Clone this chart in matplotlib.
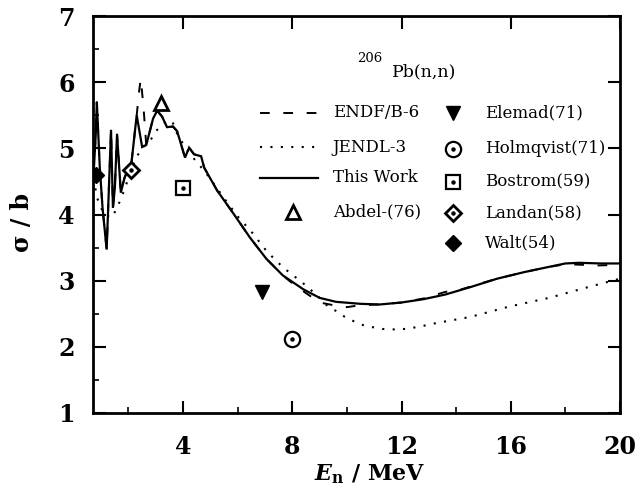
import matplotlib
matplotlib.use("Agg")
import matplotlib.pyplot as plt
from matplotlib.ticker import MultipleLocator
from matplotlib.lines import Line2D

plt.rcParams['font.family'] = ['DejaVu Serif']
plt.rcParams['mathtext.fontset'] = 'custom'
plt.rcParams['mathtext.it'] = 'DejaVu Serif:italic:bold'
plt.rcParams['mathtext.rm'] = 'DejaVu Serif:bold'
plt.rcParams['mathtext.bf'] = 'DejaVu Serif:bold'

# ---- evaluated / calculated cross sections (MeV, barn) ----
work_E = [0.72, 0.80, 0.84, 0.95, 1.05, 1.20, 1.30, 1.36, 1.43, 1.50, 1.58, 1.72,
          1.85, 1.95, 2.10, 2.30, 2.50, 2.65, 2.90, 3.05, 3.23, 3.41, 3.63, 3.78,
          4.07, 4.22, 4.40, 4.66, 4.77, 5.25, 5.85, 6.45, 7.05, 7.65, 8.40, 9.00,
          9.60, 10.5, 11.2, 12.0, 12.8, 13.6, 14.5, 15.5, 16.5, 17.3, 18.0, 18.5,
          19.3, 20.0]
work_s = [4.60, 5.20, 5.70, 4.70, 4.10, 3.47, 4.60, 5.28, 4.10, 4.40, 5.21, 4.33,
          4.55, 4.65, 4.75, 5.50, 5.02, 5.05, 5.45, 5.57, 5.48, 5.32, 5.33, 5.26,
          4.86, 5.01, 4.91, 4.88, 4.71, 4.36, 4.01, 3.65, 3.33, 3.08, 2.87, 2.74,
          2.68, 2.65, 2.64, 2.67, 2.72, 2.79, 2.90, 3.03, 3.13, 3.20, 3.26, 3.27,
          3.26, 3.26]

endf_E = [0.72, 0.80, 0.84, 0.95, 1.05, 1.20, 1.30, 1.36, 1.43, 1.50, 1.58, 1.72,
          1.85, 1.95, 2.10, 2.30, 2.40, 2.45, 2.55, 2.65, 2.90, 3.05, 3.23, 3.41,
          3.63, 3.78, 4.07, 4.22, 4.40, 4.66, 4.77, 5.25, 5.85, 6.45, 7.05, 7.65,
          8.00, 8.40, 9.00, 9.50, 10.0, 10.5, 11.2, 12.0, 12.8, 13.6, 14.2, 15.0,
          15.5, 16.5, 17.3, 18.0, 19.2, 20.0]
endf_s = [4.60, 5.20, 5.70, 4.70, 4.10, 3.47, 4.60, 5.28, 4.10, 4.40, 5.21, 4.33,
          4.55, 4.65, 4.75, 5.50, 5.90, 6.05, 5.62, 5.05, 5.45, 5.57, 5.48, 5.32,
          5.33, 5.26, 4.86, 5.01, 4.91, 4.88, 4.71, 4.36, 4.01, 3.65, 3.33, 3.08,
          2.96, 2.84, 2.67, 2.63, 2.60, 2.63, 2.64, 2.67, 2.73, 2.83, 2.87, 2.97,
          3.03, 3.13, 3.20, 3.25, 3.23, 3.24]

jendl_E = [0.72, 0.85, 1.10, 1.40, 1.72, 2.00, 2.27, 2.60, 2.83, 3.00, 3.40, 3.60,
           3.80, 4.10, 4.50, 4.80, 5.53, 6.00, 6.52, 7.07, 7.66, 8.00, 8.37, 8.90,
           9.28, 9.65, 10.0, 10.64, 11.3, 11.93, 12.6, 13.28, 14.5, 15.96, 17.4,
           18.9, 20.0]
jendl_s = [4.55, 4.25, 4.00, 3.95, 4.23, 4.55, 4.86, 5.05, 5.14, 5.26, 5.41, 5.41,
           5.20, 5.00, 4.79, 4.65, 4.23, 3.97, 3.73, 3.44, 3.20, 3.09, 2.97, 2.78,
           2.62, 2.53, 2.43, 2.32, 2.27, 2.26, 2.30, 2.36, 2.45, 2.61, 2.74,
           2.91, 3.03]

# ---- measurements ----
abdel_E, abdel_s = [3.2], [5.68]
elemad_E, elemad_s = [6.9], [2.83]
holm_E, holm_s = [8.0], [2.12]
bostrom_E, bostrom_s = [4.0], [4.40]
landan_E, landan_s = [2.1], [4.68]
walt_E, walt_s = [0.8], [4.60]

fig = plt.figure(figsize=(6.39, 4.92), dpi=100)
ax = fig.add_axes([93 / 639, 79 / 492, 527 / 639, 397 / 492])

lw = 1.6
ax.plot(work_E, work_s, color='black', lw=lw, solid_joinstyle='miter')
ax.plot(endf_E, endf_s, color='black', lw=1.4, linestyle=(0, (5, 7)))
ax.plot(jendl_E, jendl_s, color='black', lw=1.5, linestyle=(0, (1, 4)))

dot = dict(color='black', marker='o', ms=2.2, ls='none')
ax.plot(abdel_E, abdel_s, ls='none', marker='^', ms=10, mfc='white', mec='black', mew=2)
ax.plot(elemad_E, elemad_s, ls='none', marker='v', ms=10, color='black')
ax.plot(holm_E, holm_s, ls='none', marker='o', ms=11, mfc='white', mec='black', mew=1.6)
ax.plot(holm_E, holm_s, **dot)
ax.plot(bostrom_E, bostrom_s, ls='none', marker='s', ms=9.5, mfc='white', mec='black', mew=1.6)
ax.plot(bostrom_E, bostrom_s, **dot)
ax.plot(landan_E, landan_s, ls='none', marker='D', ms=8.5, mfc='white', mec='black', mew=2)
ax.plot(landan_E, landan_s, **dot)
ax.plot(walt_E, walt_s, ls='none', marker='D', ms=8, color='black')

ax.set_xlim(0.7, 20)
ax.set_ylim(1, 7)
ax.xaxis.set_major_locator(MultipleLocator(4))
ax.xaxis.set_minor_locator(MultipleLocator(2))
ax.yaxis.set_major_locator(MultipleLocator(1))
ax.yaxis.set_minor_locator(MultipleLocator(0.5))
ax.tick_params(which='major', direction='in', length=9, width=1.5,
               top=True, right=True, labelsize=17, pad=13)
ax.tick_params(which='minor', direction='in', length=4.5, width=1.2,
               top=False, right=False)
ax.tick_params(axis='x', which='major', pad=16)
for lab in ax.get_xticklabels() + ax.get_yticklabels():
    lab.set_fontweight('bold')
for sp in ax.spines.values():
    sp.set_linewidth(2)

ax.set_xlabel(r'$E_{\rm n}$' + ' / MeV', fontsize=16, fontweight='bold')
ax.set_ylabel('σ / b', fontsize=17, fontweight='bold')
ax.xaxis.set_label_coords(0.526, -0.125)
ax.yaxis.set_label_coords(-0.112, 0.481)

# reaction label
ax.text(0.501, 0.894, '206', transform=ax.transAxes, fontsize=9.5,
        ha='left', va='center')
ax.text(0.567, 0.859, 'Pb(n,n)', transform=ax.transAxes, fontsize=12.5,
        ha='left', va='center')

# hand-placed key
tfs = 12
left_rows = [0.756, 0.670, 0.592, 0.506]
right_rows = [0.756, 0.665, 0.582, 0.504, 0.428]
x0, x1, xt = 0.317, 0.427, 0.455
xm, xt2 = 0.683, 0.744
T = ax.transAxes
ax.add_line(Line2D([x0, x1], [left_rows[0]] * 2, transform=T, color='black',
                   lw=1.4, linestyle=(0, (5, 7))))
ax.add_line(Line2D([x0, x1], [left_rows[1]] * 2, transform=T, color='black',
                   lw=1.5, linestyle=(0, (1, 4))))
ax.add_line(Line2D([x0, x1], [left_rows[2]] * 2, transform=T, color='black', lw=lw))
ax.plot([0.380], [left_rows[3]], transform=T, ls='none', marker='^', ms=10,
        mfc='white', mec='black', mew=2)
for y, s in zip(left_rows, ['ENDF/B-6', 'JENDL-3', 'This Work', 'Abdel-(76)']):
    ax.text(xt, y, s, transform=T, fontsize=tfs, ha='left', va='center')

ax.plot([xm], [right_rows[0]], transform=T, ls='none', marker='v', ms=10, color='black')
ax.plot([xm], [right_rows[1]], transform=T, ls='none', marker='o', ms=11,
        mfc='white', mec='black', mew=1.6)
ax.plot([xm], [right_rows[1]], transform=T, **dot)
ax.plot([xm], [right_rows[2]], transform=T, ls='none', marker='s', ms=9.5,
        mfc='white', mec='black', mew=1.6)
ax.plot([xm], [right_rows[2]], transform=T, **dot)
ax.plot([xm], [right_rows[3]], transform=T, ls='none', marker='D', ms=8.5,
        mfc='white', mec='black', mew=2)
ax.plot([xm], [right_rows[3]], transform=T, **dot)
ax.plot([xm], [right_rows[4]], transform=T, ls='none', marker='D', ms=8, color='black')
for y, s in zip(right_rows, ['Elemad(71)', 'Holmqvist(71)', 'Bostrom(59)',
                             'Landan(58)', 'Walt(54)']):
    ax.text(xt2, y, s, transform=T, fontsize=tfs, ha='left', va='center', clip_on=False)

fig.savefig('out.png', dpi=100)
